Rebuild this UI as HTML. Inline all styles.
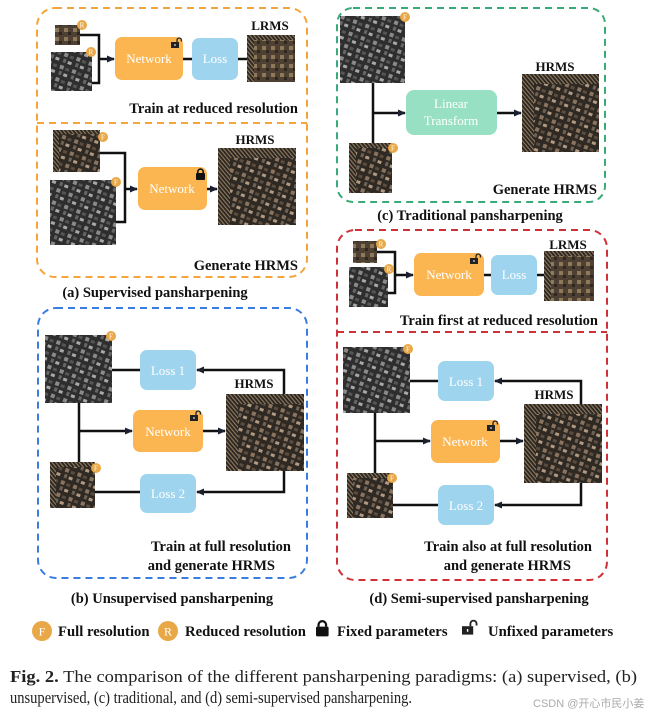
<!DOCTYPE html>
<html><head><meta charset="utf-8"><style>
html,body{margin:0;padding:0;background:#fff;}
svg{display:block;}
.b{font-family:"Liberation Serif",serif;font-weight:bold;fill:#111;}
.w{font-family:"Liberation Serif",serif;fill:#fff;}
</style></head><body>
<svg width="646" height="715" viewBox="0 0 646 715" xmlns="http://www.w3.org/2000/svg">
<defs>
<pattern id="pan" width="13" height="13" patternUnits="userSpaceOnUse" patternTransform="rotate(20)">
<rect width="13" height="13" fill="#2e2e2e"/>
<rect x="1" y="1" width="4" height="4" fill="#8a8a8a"/>
<rect x="7" y="2" width="4" height="3" fill="#555"/>
<rect x="2" y="7" width="3" height="4" fill="#666"/>
<rect x="7" y="8" width="4" height="3" fill="#a8a8a8"/>
</pattern>
<pattern id="ms" width="13" height="13" patternUnits="userSpaceOnUse" patternTransform="rotate(20)">
<rect width="13" height="13" fill="#2f2923"/>
<rect x="1" y="1" width="4" height="4" fill="#8a7460"/>
<rect x="7" y="2" width="4" height="3" fill="#5a4c3e"/>
<rect x="2" y="7" width="3" height="4" fill="#6e6256"/>
<rect x="7" y="8" width="4" height="3" fill="#b29a82"/>
</pattern>
<pattern id="lr" width="9" height="9" patternUnits="userSpaceOnUse">
<rect width="9" height="9" fill="#4e4032"/>
<rect x="1" y="1" width="4" height="4" fill="#8e7a58"/>
<rect x="5" y="5" width="3" height="3" fill="#30281f"/>
</pattern>
<pattern id="st" width="3" height="3" patternUnits="userSpaceOnUse" patternTransform="rotate(-40)">
<rect width="3" height="3" fill="#2a241e"/><rect width="1.2" height="3" fill="#8a7860"/>
</pattern>
<marker id="ar" markerWidth="8" markerHeight="8" refX="7" refY="4" orient="auto" markerUnits="userSpaceOnUse">
<path d="M0,0.5 L8,4 L0,7.5 Z" fill="#1a2030"/>
</marker>
<g id="unlock"><rect x="0" y="3" width="8" height="6" fill="#222"/><rect x="3.5" y="5" width="1" height="2" fill="#fff"/><path d="M6,3 V1.2 A2.2,2.2 0 0 1 10.4,1.2 V2.5" fill="none" stroke="#222" stroke-width="1.3"/></g>
<g id="lock"><rect x="0" y="4" width="9" height="7" rx="1" fill="#111"/><path d="M1.8,4 V2.8 A2.7,2.7 0 0 1 7.2,2.8 V4" fill="none" stroke="#111" stroke-width="1.6"/></g>
</defs>

<g fill="none" stroke-width="2" stroke-dasharray="7,5">
<rect x="37" y="8" width="270" height="269" rx="18" stroke="#f5a43a"/>
<line x1="37" y1="123" x2="307" y2="123" stroke="#f5a43a"/>
<rect x="337" y="8" width="268" height="194" rx="16" stroke="#3aaa78"/>
<rect x="337" y="230" width="270" height="350" rx="18" stroke="#d03038"/>
<line x1="337" y1="332" x2="607" y2="332" stroke="#d03038"/>
<rect x="38" y="308" width="269" height="270" rx="18" stroke="#3a7de0"/>
</g>

<g stroke="#111" stroke-width="2.5" fill="none">
<polyline points="80,35 99,35 99,83 92,83"/><line x1="99" y1="59" x2="114" y2="59" marker-end="url(#ar)"/>
<line x1="183" y1="59" x2="192" y2="59"/><line x1="238" y1="59" x2="247" y2="59"/>
<polyline points="100,153 125,153 125,222 116,222"/><line x1="125" y1="189" x2="137" y2="189" marker-end="url(#ar)"/>
<line x1="207" y1="189" x2="217" y2="189" marker-end="url(#ar)"/>
<line x1="373" y1="83" x2="373" y2="143"/><line x1="373" y1="113" x2="405" y2="113" marker-end="url(#ar)"/>
<line x1="497" y1="113" x2="521" y2="113" marker-end="url(#ar)"/>
<polyline points="377,252 395,252 395,293 388,293"/><line x1="395" y1="275" x2="413" y2="275" marker-end="url(#ar)"/>
<line x1="484" y1="275" x2="491" y2="275"/><line x1="537" y1="275" x2="544" y2="275"/>
<line x1="375" y1="413" x2="375" y2="473"/><line x1="375" y1="441" x2="430" y2="441" marker-end="url(#ar)"/>
<line x1="500" y1="441" x2="523" y2="441" marker-end="url(#ar)"/>
<polyline points="581,404 581,381 495,381" marker-end="url(#ar)"/><line x1="438" y1="381" x2="410" y2="381"/>
<polyline points="581,483 581,505 495,505" marker-end="url(#ar)"/><line x1="438" y1="505" x2="393" y2="505"/>
<line x1="79" y1="403" x2="79" y2="462"/><line x1="79" y1="431" x2="132" y2="431" marker-end="url(#ar)"/>
<line x1="203" y1="431" x2="225" y2="431" marker-end="url(#ar)"/>
<polyline points="284,394 284,370 197,370" marker-end="url(#ar)"/><line x1="140" y1="370" x2="112" y2="370"/>
<polyline points="284,471 284,492 197,492" marker-end="url(#ar)"/><line x1="140" y1="492" x2="95" y2="492"/>
</g>

<rect x="55" y="25" width="25" height="20" fill="url(#lr)"/>
<rect x="51" y="52" width="41" height="39" fill="url(#pan)"/>
<g><rect x="247" y="35" width="48" height="47" fill="url(#st)"/><rect x="254" y="40" width="41" height="42" fill="url(#lr)"/></g>
<rect x="53" y="130" width="47" height="42" fill="url(#st)"/><rect x="59" y="134" width="41" height="38" fill="url(#ms)"/>
<rect x="50" y="180" width="66" height="65" fill="url(#pan)"/>
<rect x="218" y="148" width="78" height="77" fill="url(#st)"/><rect x="230" y="158" width="66" height="67" fill="url(#ms)"/>

<rect x="340" y="16" width="65" height="67" fill="url(#pan)"/>
<rect x="349" y="143" width="43" height="50" fill="url(#st)"/><rect x="356" y="148" width="36" height="45" fill="url(#ms)"/>
<rect x="522" y="74" width="77" height="78" fill="url(#st)"/><rect x="534" y="84" width="65" height="68" fill="url(#ms)"/>

<rect x="353" y="241" width="24" height="22" fill="url(#lr)"/>
<rect x="349" y="267" width="39" height="40" fill="url(#pan)"/>
<rect x="544" y="251" width="50" height="50" fill="url(#st)"/><rect x="551" y="256" width="43" height="45" fill="url(#lr)"/>
<rect x="343" y="347" width="67" height="66" fill="url(#pan)"/>
<rect x="347" y="473" width="46" height="45" fill="url(#st)"/><rect x="353" y="478" width="40" height="40" fill="url(#ms)"/>
<rect x="524" y="404" width="78" height="79" fill="url(#st)"/><rect x="536" y="414" width="66" height="69" fill="url(#ms)"/>

<rect x="45" y="335" width="67" height="68" fill="url(#pan)"/>
<rect x="50" y="462" width="45" height="46" fill="url(#st)"/><rect x="56" y="467" width="39" height="41" fill="url(#ms)"/>
<rect x="226" y="394" width="78" height="77" fill="url(#st)"/><rect x="238" y="404" width="66" height="67" fill="url(#ms)"/>

<g fill="#e8a848">
<circle cx="82" cy="25" r="5"/><circle cx="91" cy="52" r="5"/><circle cx="103" cy="137" r="5"/><circle cx="116" cy="182" r="5"/>
<circle cx="405" cy="17" r="5"/><circle cx="393" cy="148" r="5"/>
<circle cx="381" cy="244" r="5"/><circle cx="389" cy="269" r="5"/><circle cx="408" cy="349" r="5"/><circle cx="392" cy="478" r="5"/>
<circle cx="111" cy="336" r="5"/><circle cx="96" cy="468" r="5"/>
</g>
<g class="w" font-size="7" text-anchor="middle">
<text x="82" y="27.5">R</text><text x="91" y="54.5">R</text><text x="103" y="139.5">F</text><text x="116" y="184.5">F</text>
<text x="405" y="19.5">F</text><text x="393" y="150.5">F</text>
<text x="381" y="246.5">R</text><text x="389" y="271.5">R</text><text x="408" y="351.5">F</text><text x="392" y="480.5">F</text>
<text x="111" y="338.5">F</text><text x="96" y="470.5">F</text>
</g>

<g>
<rect x="115" y="37" width="68" height="43" rx="7" fill="#fbb652"/>
<rect x="192" y="38" width="46" height="42" rx="7" fill="#9fd4ee"/>
<rect x="138" y="167" width="69" height="43" rx="7" fill="#fbb652"/>
<rect x="406" y="90" width="91" height="45" rx="8" fill="#98e0c4"/>
<rect x="414" y="253" width="70" height="43" rx="7" fill="#fbb652"/>
<rect x="491" y="255" width="46" height="40" rx="7" fill="#9fd4ee"/>
<rect x="438" y="361" width="56" height="40" rx="7" fill="#9fd4ee"/>
<rect x="431" y="420" width="69" height="43" rx="7" fill="#fbb652"/>
<rect x="438" y="485" width="56" height="40" rx="7" fill="#9fd4ee"/>
<rect x="140" y="350" width="56" height="40" rx="7" fill="#9fd4ee"/>
<rect x="133" y="410" width="70" height="42" rx="7" fill="#fbb652"/>
<rect x="140" y="474" width="56" height="39" rx="7" fill="#9fd4ee"/>
</g>
<use href="#unlock" x="171" y="39"/><use href="#lock" x="196" y="169"/>
<use href="#unlock" x="470" y="255"/><use href="#unlock" x="487" y="422"/><use href="#unlock" x="190" y="412"/>

<g class="w" font-size="13" text-anchor="middle">
<text x="149" y="63">Network</text><text x="215" y="63">Loss</text>
<text x="172" y="193">Network</text>
<text x="451" y="108">Linear</text><text x="451" y="125">Transform</text>
<text x="449" y="279">Network</text><text x="514" y="279">Loss</text>
<text x="466" y="386">Loss 1</text><text x="465" y="446">Network</text><text x="466" y="510">Loss 2</text>
<text x="168" y="375">Loss 1</text><text x="168" y="436">Network</text><text x="168" y="498">Loss 2</text>
</g>

<g class="b" font-size="13" text-anchor="middle">
<text x="270" y="30">LRMS</text><text x="255" y="144">HRMS</text>
<text x="555" y="71">HRMS</text>
<text x="568" y="249">LRMS</text><text x="554" y="399">HRMS</text>
<text x="254" y="388">HRMS</text>
</g>
<g class="b" font-size="14.5" text-anchor="end">
<text x="298" y="113">Train at reduced resolution</text>
<text x="298" y="270">Generate HRMS</text>
<text x="597" y="194">Generate HRMS</text>
<text x="598" y="325">Train first at reduced resolution</text>
<text x="291" y="551">Train at full resolution</text>
<text x="275" y="570">and generate HRMS</text>
<text x="592" y="551">Train also at full resolution</text>
<text x="571" y="570">and generate HRMS</text>
</g>
<g class="b" font-size="14.5" text-anchor="middle">
<text x="155" y="297">(a) Supervised pansharpening</text>
<text x="470" y="220">(c) Traditional pansharpening</text>
<text x="172" y="603">(b) Unsupervised pansharpening</text>
<text x="479" y="603">(d) Semi-supervised pansharpening</text>
</g>

<circle cx="42" cy="631" r="10" fill="#e8a848"/><text class="w" x="42" y="635.5" font-size="12" text-anchor="middle">F</text>
<text class="b" x="58" y="636" font-size="14.7">Full resolution</text>
<circle cx="168" cy="631" r="10" fill="#e8a848"/><text class="w" x="168" y="635.5" font-size="12" text-anchor="middle">R</text>
<text class="b" x="185" y="636" font-size="14.7">Reduced resolution</text>
<g transform="translate(316,621) scale(1.4)"><use href="#lock"/></g>
<text class="b" x="337" y="636" font-size="14.7">Fixed parameters</text>
<g transform="translate(462,622) scale(1.4)"><use href="#unlock"/></g>
<text class="b" x="488" y="636" font-size="14.7">Unfixed parameters</text>

<g font-family="Liberation Serif, serif" font-size="17" fill="#222">
<text x="10" y="682" textLength="627" lengthAdjust="spacingAndGlyphs"><tspan font-weight="bold">Fig. 2.</tspan> The comparison of the different pansharpening paradigms: (a) supervised, (b)</text>
<text x="10" y="703" textLength="402" lengthAdjust="spacingAndGlyphs">unsupervised, (c) traditional, and (d) semi-supervised pansharpening.</text>
</g>
<text x="533" y="707" font-family="Liberation Sans, 'Noto Sans CJK SC', sans-serif" font-size="11" fill="#aaa">CSDN @开心市民小姜</text>
</svg>
</body></html>
